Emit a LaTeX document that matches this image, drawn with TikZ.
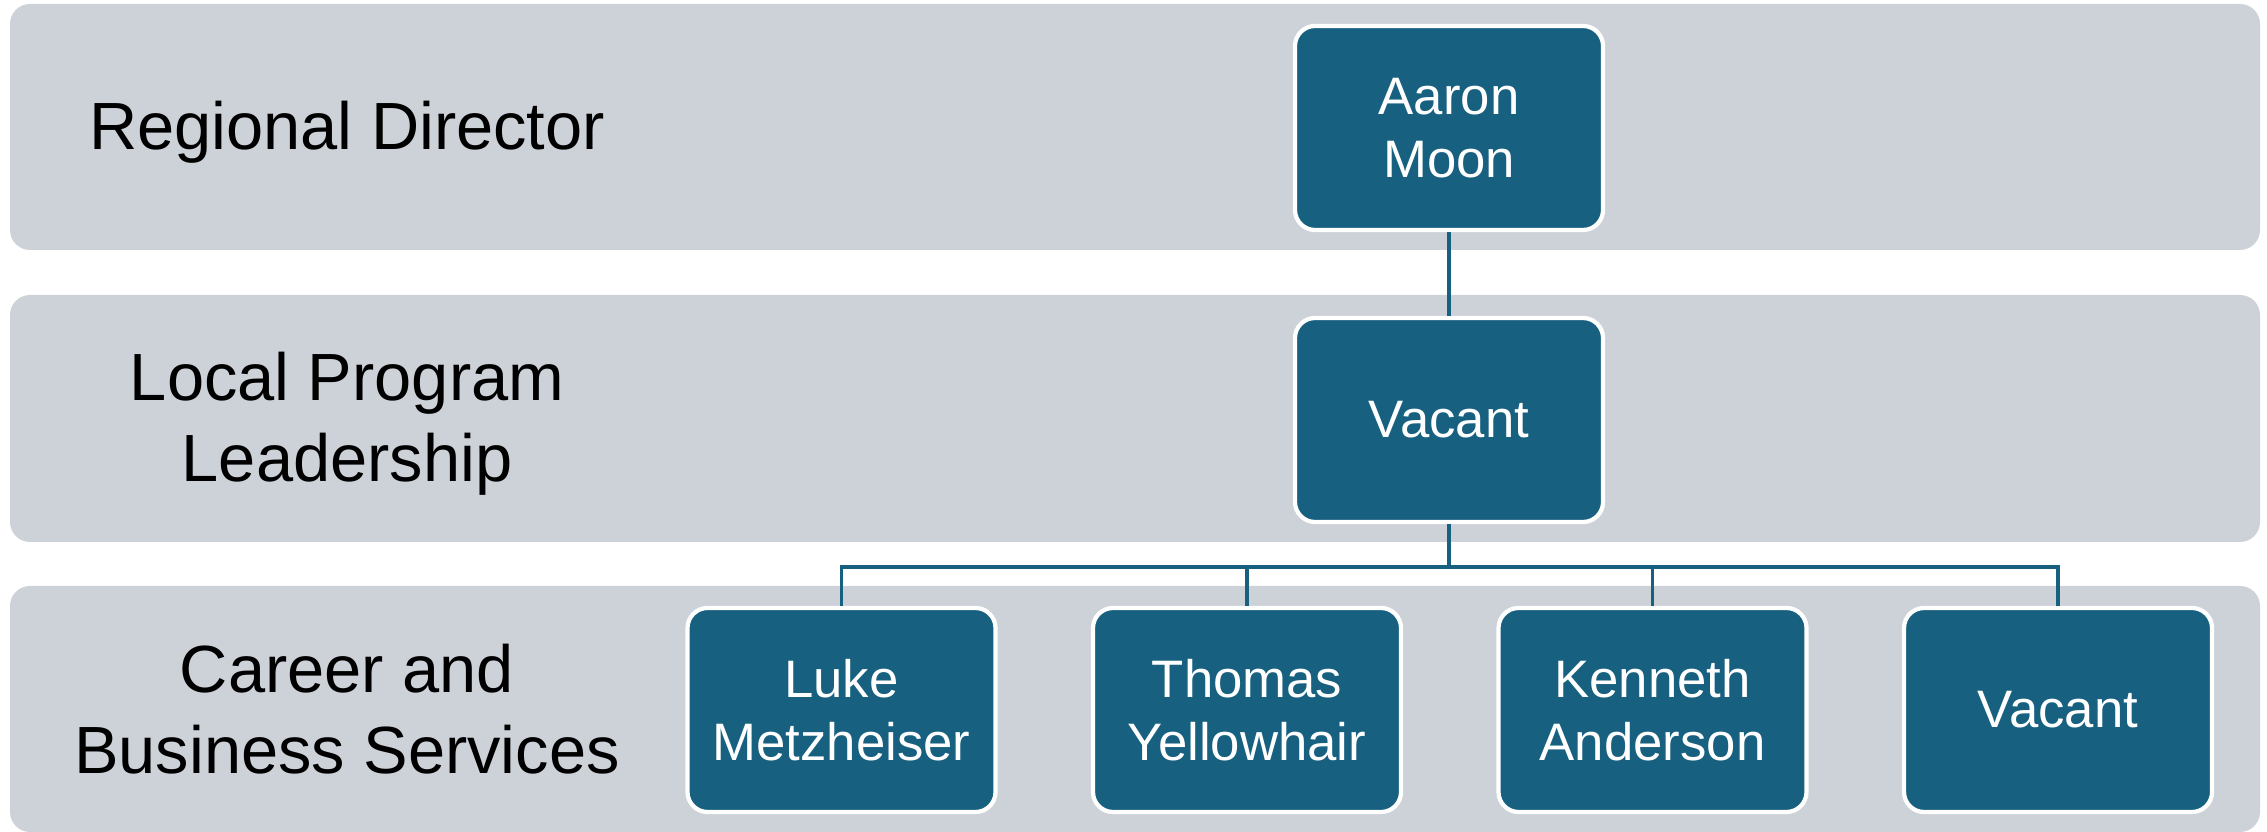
\documentclass[tikz,border=0pt]{standalone}
\usepackage{fontspec}
\setmainfont{Liberation Sans}
\usetikzlibrary{positioning,backgrounds}
\definecolor{boxblue}{HTML}{17607F}
\definecolor{bandgray}{HTML}{CDD2D9}

\begin{document}
\begin{tikzpicture}

\pgfdeclarelayer{background}
\pgfsetlayers{background,main}

\tikzstyle{person} = [draw=white, line width=1.2pt, fill=boxblue, text=white, rounded corners=0.2cm, minimum width=3.08cm, minimum height=2.04cm, inner sep=0pt, align=center, font=\fontsize{15}{18}\selectfont]
\tikzstyle{level} = [text=black, align=center, font=\fontsize{19}{23}\selectfont]
\tikzstyle{link} = [draw=boxblue, line width=1.05pt]

\useasboundingbox (0,0) rectangle (22.67,8.32);

\coordinate (anchor) at (0,0);

%Regional director: top row

\path (anchor)+(3.47,7.00) node (regional_label) [level] {Regional Director};

\path (anchor)+(14.49,7.04) node (aaron) [person] {Aaron\\Moon};

%Local program leadership: middle row

\path (regional_label)+(0,-2.92) node (local_label) [level] {Local Program\\Leadership};

\path (aaron)+(0,-2.92) node (lead) [person] {Vacant};

%Career and business services: bottom row

\path (local_label)+(0,-2.85) node (career_label) [level] {Career and\\Business Services};

\path (anchor)+(8.415,1.22) node (luke) [person] {Luke\\Metzheiser};
\path (luke)+(4.055,0) node (thomas) [person] {Thomas\\Yellowhair};
\path (thomas)+(4.055,0) node (kenneth) [person] {Kenneth\\Anderson};
\path (kenneth)+(4.055,0) node (vacant_css) [person] {Vacant};

%Connectors

\draw [link] (aaron) -- (lead);

\path (lead.south)+(0,-0.43) coordinate (bus);
\draw [link] (lead) -- (bus);

\foreach \n in {luke,thomas,kenneth,vacant_css}
  \draw [link] (bus) -| (\n);

\begin{pgfonlayer}{background}

\path (anchor)+(0.10,8.28) coordinate (band1_a);
\path (anchor)+(22.60,5.82) coordinate (band1_b);
\path[rounded corners=0.2cm, fill=bandgray] (band1_a) rectangle (band1_b);

\path (anchor)+(0.10,5.37) coordinate (band2_a);
\path (anchor)+(22.60,2.90) coordinate (band2_b);
\path[rounded corners=0.2cm, fill=bandgray] (band2_a) rectangle (band2_b);

\path (anchor)+(0.10,2.46) coordinate (band3_a);
\path (anchor)+(22.60,0.00) coordinate (band3_b);
\path[rounded corners=0.2cm, fill=bandgray] (band3_a) rectangle (band3_b);

\end{pgfonlayer}

\end{tikzpicture}
\end{document}
